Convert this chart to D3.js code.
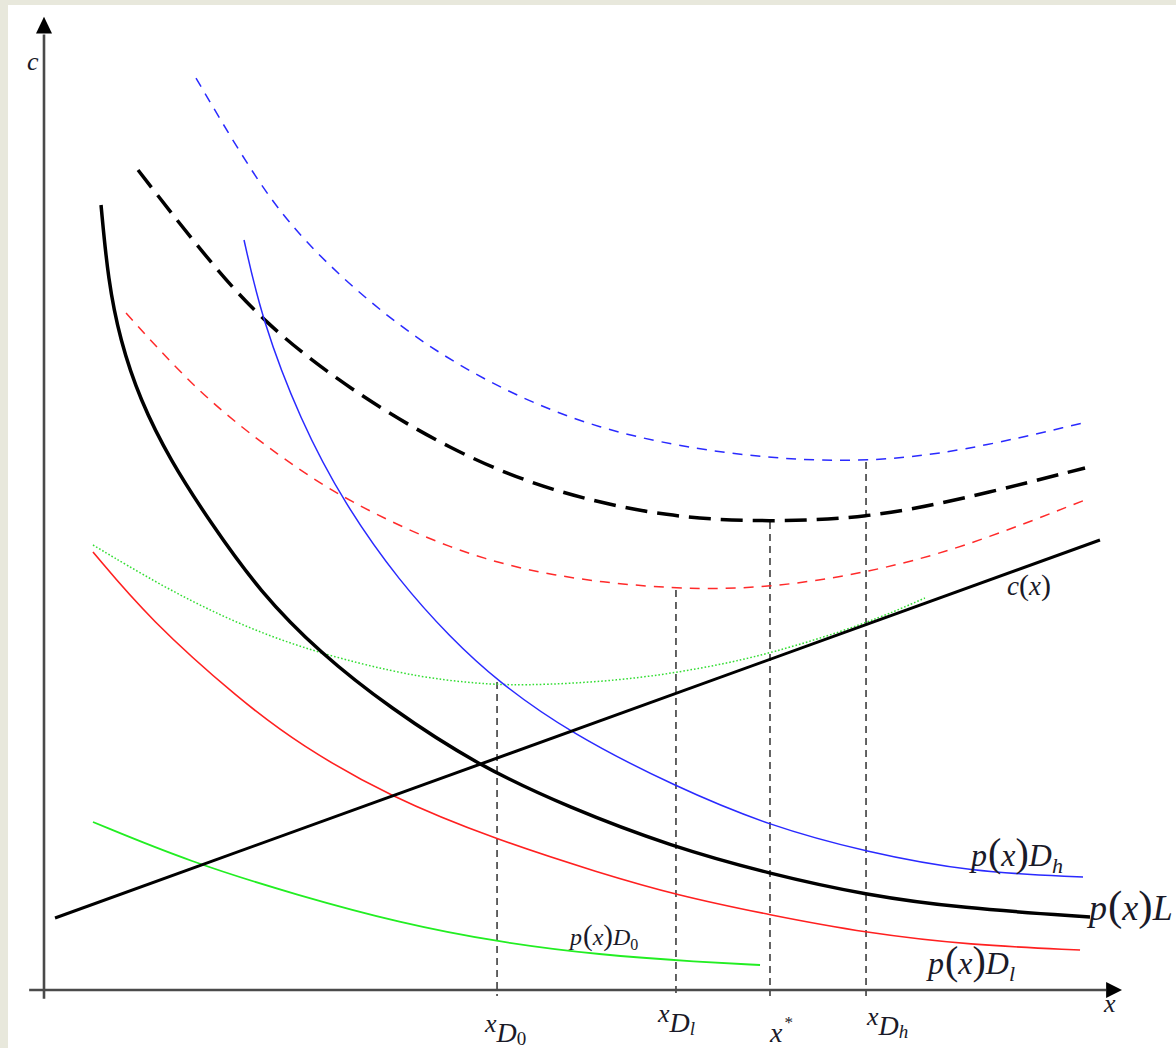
<!DOCTYPE html>
<html>
<head>
<meta charset="utf-8">
<script src="https://cdn.jsdelivr.net/npm/d3@7"></script>
<style>
  html, body { margin: 0; padding: 0; background: #e8e8dc; }
  svg { display: block; }
</style>
</head>
<body>
<svg id="chart" width="1176" height="1048"></svg>
<script>
// ---- data (x, y in chart units: x 0..100, y 0..100) ----
const costLine = [[1.04, 7.35], [99.62, 45.92]];                       // c(x)
const pL = [[5.38,80.10],[6.04,72.45],[7.17,66.33],[9.06,60.20],[11.89,54.08],[15.66,47.76],
            [20.38,40.61],[26.04,34.39],[32.64,28.78],[40.85,22.96],[49.62,18.57],[59.06,14.69],
            [68.49,11.84],[77.55,9.69],[86.42,8.37],[98.68,7.45]];
const pLavg = [[8.87,83.67],[14.72,75.51],[20.57,68.16],[28.87,61.22],[38.30,55.10],[47.74,50.82],
               [59.06,48.16],[68.49,47.76],[77.55,48.16],[86.42,50.0],[98.21,53.27]];
const pDh = [[18.87,76.53],[20.57,68.37],[24.15,58.16],[28.40,49.49],[33.58,41.63],[38.30,36.02],
             [42.74,31.53],[49.62,26.22],[59.62,20.71],[68.49,16.73],[77.55,14.08],[87.36,12.04],[98.02,11.53]];
const pDhAvg = [[14.34,93.06],[19.43,83.67],[24.15,76.53],[33.58,67.35],[43.02,61.22],[52.45,57.14],
                [61.89,55.10],[69.43,54.18],[77.55,53.88],[86.42,54.90],[98.02,57.86]];
const pDl = [[4.62,44.69],[10.0,37.76],[18.49,29.59],[24.15,25.0],[32.64,19.69],[42.74,15.31],
             [52.45,11.94],[59.62,9.69],[68.49,7.65],[77.55,5.82],[87.36,4.59],[97.74,4.08]];
const pDlAvg = [[7.74,69.08],[14.72,60.71],[22.26,54.39],[28.40,50.0],[38.30,44.90],[47.74,42.14],
                [59.62,40.82],[68.49,41.02],[77.55,42.55],[86.42,45.0],[98.21,50.0]];
const pD0 = [[4.62,17.14],[13.77,13.06],[24.15,9.59],[33.58,6.84],[42.74,4.90],[52.45,3.57],
             [61.89,2.86],[67.55,2.55]];
const pD0Avg = [[4.62,45.41],[10.94,41.33],[17.26,37.86],[23.49,35.20],[29.81,33.27],[35.47,31.94],
                [40.19,31.33],[44.91,31.02],[54.34,31.53],[61.89,32.76],[68.49,34.29],[77.55,37.35],[83.11,40.0]];
// vertical guide lines: x position and top value
const guideX   = [42.74, 59.62, 68.49, 77.55];
const guideTop = [31.43, 40.82, 47.76, 53.88];
const guideSub = ["0", "l", null, "h"];

// ---- scales ----
const x = d3.scaleLinear().domain([0, 100]).range([44, 1104]);
const y = d3.scaleLinear().domain([0, 100]).range([990, 10]);

const svg = d3.select("#chart");
svg.append("rect").attr("x", 8).attr("y", 5).attr("width", 1168).attr("height", 1043).attr("fill", "#ffffff");

const line = d3.line().x(d => x(d[0])).y(d => y(d[1])).curve(d3.curveBasis);

function path(data, color, width, dash) {
  const p = svg.append("path").attr("d", line(data)).attr("fill", "none")
    .attr("stroke", color).attr("stroke-width", width)
    .attr("stroke-linecap", "butt").attr("stroke-linejoin", "round");
  if (dash) p.attr("stroke-dasharray", dash);
  return p;
}

// guides
guideX.forEach((gx, i) => {
  svg.append("line").attr("x1", x(gx)).attr("x2", x(gx))
    .attr("y1", y(guideTop[i])).attr("y2", y(-0.6))
    .attr("stroke", "#222").attr("stroke-width", 1.4).attr("stroke-dasharray", "7,5");
});

// curves
path(pDhAvg, "#2a2aff", 1.5, "10,8");
path(pDlAvg, "#ff2a2a", 1.5, "10,8");
path(pLavg, "#000", 3.5, "22,10");
path(pD0Avg, "#33dd33", 1.5, "1.6,2");
path(pDh, "#2a2aff", 1.5);
path(pDl, "#ff2020", 1.6);
path(pD0, "#22ee22", 1.8);
path(pL, "#000", 3.5);
path(costLine, "#000", 3);

// axes
const axisColor = "#4a4a4a";
svg.append("line").attr("x1", x(0)).attr("x2", x(0)).attr("y1", y(-0.9)).attr("y2", y(97.5))
  .attr("stroke", axisColor).attr("stroke-width", 2.6);
svg.append("line").attr("x1", x(-1.4)).attr("x2", x(100.2)).attr("y1", y(0)).attr("y2", y(0))
  .attr("stroke", axisColor).attr("stroke-width", 2.6);
svg.append("path").attr("fill", "#000")
  .attr("d", `M${x(0)},${y(99.3)} L${x(0)-8},${y(97.6)} L${x(0)+8},${y(97.6)} Z`);
svg.append("path").attr("fill", "#000")
  .attr("d", `M${x(101.7)},${y(0)} L${x(100.2)},${y(0)-8} L${x(100.2)},${y(0)+8} Z`);

// math-like labels
const serif = "'Liberation Serif', 'Times New Roman', serif";
function mathLabel(px, py, parts) {
  const t = svg.append("text").attr("x", px).attr("y", py)
    .attr("font-family", serif).attr("fill", "#1a1a28");
  let cur = 0;
  parts.forEach(p => {
    const dy = (p.dy || 0) - cur;
    cur = p.dy || 0;
    t.append("tspan").attr("dy", dy).attr("dx", p.dx || 0)
      .attr("font-size", p.size).attr("font-style", p.it === false ? "normal" : "italic")
      .text(p.t);
  });
  return t;
}

mathLabel(27, 70, [{t: "c", size: 26}]);
mathLabel(1104, 1012, [{t: "x", size: 26}]);
mathLabel(1007, 595, [{t: "c", size: 27}, {t: "(", size: 30, it: false}, {t: "x", size: 27}, {t: ")", size: 30, it: false}]);

function pLabel(px, py, sz, psz, sub, subSz, lastLetter) {
  const parts = [
    {t: "p", size: sz},
    {t: "(", size: psz, it: false, dx: 1},
    {t: "x", size: sz},
    {t: ")", size: psz, it: false},
    {t: lastLetter || "D", size: sz}
  ];
  if (sub) parts.push({t: sub, size: subSz, dy: sz * 0.22, it: sub !== "0"});
  return mathLabel(px, py, parts);
}
pLabel(971, 866, 32, 40, "h", 22);
pLabel(928, 974, 32, 40, "l", 22);
pLabel(1089, 920, 36, 43, null, 0, "L");
pLabel(570, 945, 24, 29, "0", 16);

// x-axis guide labels
guideX.forEach((gx, i) => {
  const sub = guideSub[i];
  if (sub === null) {
    mathLabel(x(gx), 1042, [{t: "x", size: 28}, {t: "*", size: 17, it: false, dy: -14, dx: 2}]);
  } else {
    const base = [1032, 1022, null, 1025][i];
    mathLabel(x(gx) - [12, 18, 0, -1][i], base, [
      {t: "x", size: 26},
      {t: "D", size: 28, dy: 10},
      {t: sub, size: 19, dy: 13, it: sub !== "0"}
    ]);
  }
});
</script>
</body>
</html>
